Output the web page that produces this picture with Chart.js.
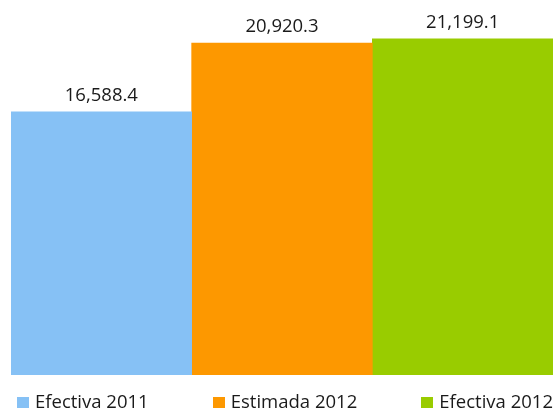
<!DOCTYPE html>
<html>
<head>
<meta charset="utf-8">
<script src="https://cdn.jsdelivr.net/npm/chart.js@4/dist/chart.umd.min.js"></script>
<style>
  html, body { margin: 0; padding: 0; background: #fff; }
  .wrap { position: relative; width: 557px; height: 413px; }
  #legend {
    position: absolute; left: 17px; right: 4px; top: 391px;
    display: flex; justify-content: space-between;
    font-family: "Open Sans", sans-serif; font-size: 18.5px; line-height: 20px; color: #1a1a1a;
  }
  .lg-item { display: flex; align-items: center; white-space: nowrap; }
  .lg-box { width: 12px; height: 11px; margin-right: 6px; margin-top: 2px; }
</style>
</head>
<body>
<div class="wrap">
  <canvas id="chart"></canvas>
  <div id="legend"></div>
</div>
<script>
const seriesNames = ['Efectiva 2011', 'Estimada 2012', 'Efectiva 2012'];
const seriesValues = [16588.4, 20920.3, 21199.1];
const seriesColors = ['#86C1F5', '#FD9800', '#99CC00'];

const fmt = v => v.toLocaleString('en-US', { minimumFractionDigits: 1, maximumFractionDigits: 1 });

// value labels above each bar
const valueLabels = {
  id: 'valueLabels',
  afterDatasetsDraw(chart) {
    const ctx = chart.ctx;
    ctx.save();
    ctx.font = '18.5px "Open Sans", sans-serif';
    ctx.fillStyle = '#1a1a1a';
    ctx.textAlign = 'center';
    ctx.textBaseline = 'alphabetic';
    chart.data.datasets.forEach((ds, i) => {
      const bar = chart.getDatasetMeta(i).data[0];
      ctx.fillText(fmt(ds.data[0]), bar.x, bar.y - 11);
    });
    ctx.restore();
  }
};

const chart = new Chart(document.getElementById('chart'), {
  type: 'bar',
  data: {
    labels: [''],
    datasets: seriesNames.map((name, i) => ({
      label: name,
      data: [seriesValues[i]],
      backgroundColor: seriesColors[i],
      borderWidth: 0,
      categoryPercentage: 1,
      barPercentage: 1,
    }))
  },
  options: {
    responsive: true,
    maintainAspectRatio: false,
    animation: false,
    layout: { padding: { left: 11, right: 4, top: 26, bottom: 38 } },
    scales: {
      x: { display: false },
      y: { display: false, min: 0, max: 22000 }
    },
    plugins: {
      legend: { display: false },
      tooltip: { enabled: false }
    }
  },
  plugins: [valueLabels]
});

document.getElementById('legend').innerHTML = chart.data.datasets.map(ds => `
  <div class="lg-item"><span class="lg-box" style="background:${ds.backgroundColor}"></span><span>${ds.label}</span></div>
`).join('');
</script>
</body>
</html>
